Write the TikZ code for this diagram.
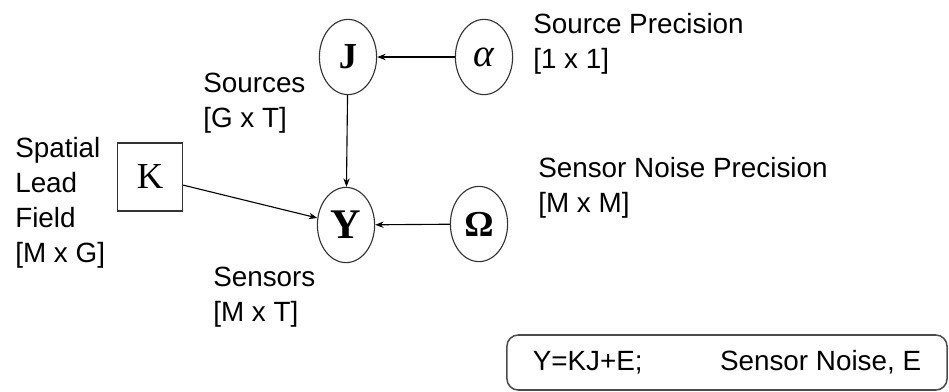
\documentclass[tikz,border=0pt]{standalone}
\usepackage{fontspec}
\setmainfont{Liberation Sans}
\newfontfamily\tnr{Liberation Serif}
\usetikzlibrary{shapes.geometric,arrows.meta}
\begin{document}
\begin{tikzpicture}[x=0.025cm,y=-0.025cm,
		var/.style={ellipse,draw=black!80,line width=0.8pt,minimum width=1.43cm,minimum height=1.88cm,inner sep=0pt},
		fixed/.style={rectangle,draw=black!80,line width=0.8pt,minimum width=1.63cm,minimum height=1.7cm,inner sep=0pt},
		lbl/.style={anchor=base west,align=left,inner sep=0pt,font=\fontsize{19.8}{24.8}\selectfont},
		arr/.style={-{Stealth[length=6pt,width=4.5pt]},line width=0.8pt}]
	\useasboundingbox (0,0) rectangle (949,391);
	\node[var] (J) at (348,57) {\tnr\fontsize{26}{26}\selectfont\bfseries J};
	\node[var] (alpha) at (484,57) {\tnr\fontsize{28}{28}\selectfont\itshape α};
	\node[var] (Y) at (346,225) {\tnr\fontsize{30}{30}\selectfont\bfseries Y};
	\node[var] (Omega) at (479,224) {\tnr\fontsize{26}{26}\selectfont\bfseries Ω};
	\node[fixed] (K) at (150,177) {\tnr\fontsize{26}{26}\selectfont K};
	\draw[arr] (alpha) -- (J);
	\draw[arr] (J) -- (Y);
	\draw[arr] (Omega) -- (Y);
	\draw[arr] (K) -- (Y);
	\node[lbl] (srcprec) at (533,68) {Source Precision\\{[1 x 1]}};
	\node[lbl] (src) at (203,127) {Sources\\{[G x T]}};
	\node[lbl] (lead) at (15,262) {Spatial\\Lead\\Field\\{[M x G]}};
	\node[lbl] (sens) at (213,321) {Sensors\\{[M x T]}};
	\node[lbl] (noiseprec) at (538,212) {Sensor Noise Precision\\{[M x M]}};
	\node[draw=black!70,line width=1.1pt,rounded corners=8pt,minimum width=11cm,minimum height=1.375cm,
		font=\fontsize{19.8}{24.8}\selectfont] (eqn) at (727,362.5) {Y=KJ+E;\hspace{55pt}Sensor Noise, E};
\end{tikzpicture}
\end{document}
